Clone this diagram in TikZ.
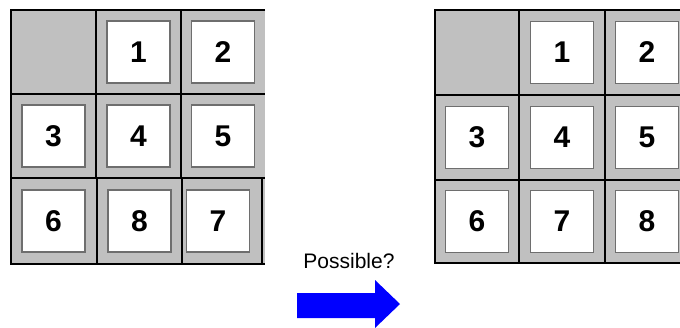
\documentclass[tikz,border=0pt]{standalone}
\usepackage{fontspec}
\newfontfamily\tilefont{Liberation Sans}
\newfontfamily\notefont{Liberation Sans}
\definecolor{boardgray}{HTML}{C0C0C0}
\definecolor{tileedge}{HTML}{6E6E6E}
\definecolor{arrowblue}{HTML}{0000FF}
\begin{document}
\begin{tikzpicture}[x=1pt,y=-1pt,
  board/.style={fill=boardgray},
  gridline/.style={line width=2pt,draw=black},
  tile/.style={draw=tileedge,line width=1.4pt,fill=white,minimum width=63pt,minimum height=62pt,
    inner sep=0pt,font=\tilefont\bfseries\fontsize{30}{30}\selectfont},
  note/.style={font=\notefont\fontsize{21}{21}\selectfont,inner sep=0pt}]
\useasboundingbox (0,0) rectangle (680,327);

% ---- start board ----
\fill[board] (11,10) rectangle (265,264);
\draw[gridline] (265,10) -- (11,10) -- (11,264) -- (265,264);
\draw[gridline] (96,10) -- (96,178);
\draw[gridline] (97,178) -- (97,264);
\draw[gridline] (181,10) -- (181,178);
\draw[gridline] (182,178) -- (182,264);
\draw[gridline] (262,178) -- (262,264);
\draw[gridline] (11,94) -- (265,94);
\draw[gridline] (11,178) -- (265,178);
\node[tile] (L1) at (138.5,52) {1};
\node[tile] (L2) at (223,52) {2};
\node[tile] (L3) at (53.5,136) {3};
\node[tile] (L4) at (138.5,136) {4};
\node[tile] (L5) at (223,136) {5};
\node[tile] (L6) at (53.5,221) {6};
\node[tile] (L8) at (139.5,221) {8};
\node[tile] (L7) at (218,221) {7};

% ---- move label and arrow ----
\node[note] (q) at (349,261) {Possible?};
\fill[arrowblue] (297,293) -- (375,293) -- (375,280) -- (400,304) -- (375,328)
  -- (375,318) -- (297,318) -- cycle;

% ---- goal board ----
\fill[board] (435,10) rectangle (680,263);
\draw[gridline] (680,10) -- (435,10) -- (435,263) -- (680,263);
\draw[gridline] (519,10) -- (519,263);
\draw[gridline] (605,10) -- (605,263);
\draw[gridline] (435,95) -- (680,95);
\draw[gridline] (435,180) -- (680,180);
\node[tile] (R1) at (562,52.5) {1};
\node[tile] (R2) at (647,52.5) {2};
\node[tile] (R3) at (477,137.5) {3};
\node[tile] (R4) at (562,137.5) {4};
\node[tile] (R5) at (647,137.5) {5};
\node[tile] (R6) at (477,221.5) {6};
\node[tile] (R7) at (562,221.5) {7};
\node[tile] (R8) at (647,221.5) {8};
\end{tikzpicture}
\end{document}
